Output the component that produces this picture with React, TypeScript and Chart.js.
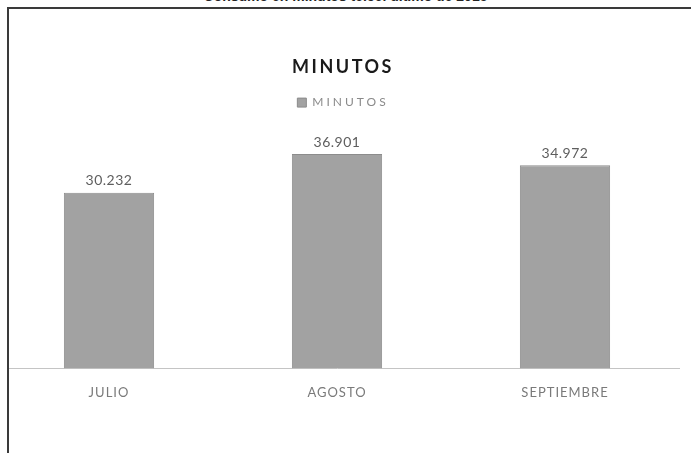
import React, { useEffect, useRef } from "react";
import { Chart, registerables } from "chart.js";

Chart.register(...registerables);

const pageHeading = "Consumo en minutos telcel último de 2015";
const chartTitle = "MINUTOS";
const seriesName = "MINUTOS";
const categories = ["JULIO", "AGOSTO", "SEPTIEMBRE"];
const minutos = [30.232, 36.901, 34.972];
const valueLabels = ["30.232", "36.901", "34.972"];

function wrap(obj: any, names: string[], spacing: string) {
  if (!obj) return;
  names.forEach((n) => {
    const orig = obj[n];
    if (typeof orig !== "function") return;
    obj[n] = function (...args: any[]) {
      const ctx = this.ctx;
      const prev = ctx.letterSpacing;
      ctx.letterSpacing = spacing;
      try {
        return orig.apply(this, args);
      } finally {
        ctx.letterSpacing = prev;
      }
    };
  });
}

const spacingPlugin = {
  id: "spacing",
  beforeLayout(chart: any) {
    if (chart._spaced) return;
    chart._spaced = true;
    wrap(chart.titleBlock, ["update", "draw"], "2.5px");
    wrap(chart.legend, ["update", "draw"], "3px");
    wrap(chart.scales.x, ["update", "draw"], "1px");
  },
};

const valueLabelPlugin = {
  id: "valueLabels",
  afterDatasetsDraw(chart: any) {
    const ctx = chart.ctx;
    const meta = chart.getDatasetMeta(0);
    ctx.save();
    ctx.letterSpacing = "0.5px";
    ctx.font = "14px Lato";
    ctx.fillStyle = "#5e5e5e";
    ctx.textAlign = "center";
    ctx.textBaseline = "middle";
    meta.data.forEach((bar: any, i: number) => {
      ctx.fillText(valueLabels[i], bar.x, bar.y - 12);
    });
    ctx.restore();
  },
};

export default function App() {
  const ref = useRef<HTMLCanvasElement>(null);

  useEffect(() => {
    if (!ref.current) return;
    const chart = new Chart(ref.current, {
      type: "bar",
      data: {
        labels: categories,
        datasets: [
          {
            label: seriesName,
            data: minutos,
            backgroundColor: "#a2a2a2",
            borderColor: "#8c8c8c",
            borderWidth: 1,
            barPercentage: 0.4,
            categoryPercentage: 0.99,
          },
        ],
      },
      options: {
        responsive: false,
        animation: false,
        devicePixelRatio: 1,
        layout: { padding: { top: 0, left: 0, right: 0, bottom: 35 } },
        plugins: {
          title: {
            display: true,
            text: chartTitle,
            color: "#1a1a1a",
            font: { family: "Lato", size: 18, weight: "bold", lineHeight: 1.2 },
            padding: { top: 56, bottom: 11 },
          },
          legend: {
            display: true,
            position: "top",
            labels: {
              color: "#8a8a8a",
              font: { family: "Lato", size: 12 },
              boxWidth: 9,
              boxHeight: 9,
              padding: 8,
            },
          },
          tooltip: { enabled: false },
        },
        scales: {
          x: {
            grid: { display: false, drawTicks: false },
            border: { display: true, color: "#c4c4c4", width: 1 },
            ticks: {
              color: "#7a7a7a",
              font: { family: "Lato", size: 13, lineHeight: 1.2 },
              padding: 17,
              maxRotation: 0,
            },
          },
          y: {
            position: "right",
            min: 0,
            max: 43,
            grid: { display: false },
            border: { display: false },
            ticks: { display: false },
            afterFit: (s: any) => {
              s.width = 12;
            },
          },
        },
      },
      plugins: [spacingPlugin, valueLabelPlugin],
    });
    return () => chart.destroy();
  }, []);

  return (
    <div
      style={{
        position: "fixed",
        left: 0,
        top: 0,
        width: 691,
        height: 453,
        overflow: "hidden",
        background: "#ffffff",
      }}
    >
      <div
        style={{
          position: "absolute",
          top: -11,
          left: 0,
          width: 691,
          textAlign: "center",
          font: "bold 14px 'Liberation Sans', Arial, sans-serif",
          lineHeight: "14px",
          color: "#222",
        }}
      >
        {pageHeading}
      </div>
      <div
        style={{
          position: "absolute",
          left: 7,
          top: 7,
          width: 800,
          height: 600,
          borderLeft: "2px solid #3a3a3a",
          borderTop: "2px solid #3a3a3a",
          overflow: "hidden",
        }}
      >
        <canvas
          ref={ref}
          width={696}
          height={453}
          style={{ position: "absolute", left: -14, top: -9, width: 696, height: 453 }}
        />
      </div>
    </div>
  );
}
